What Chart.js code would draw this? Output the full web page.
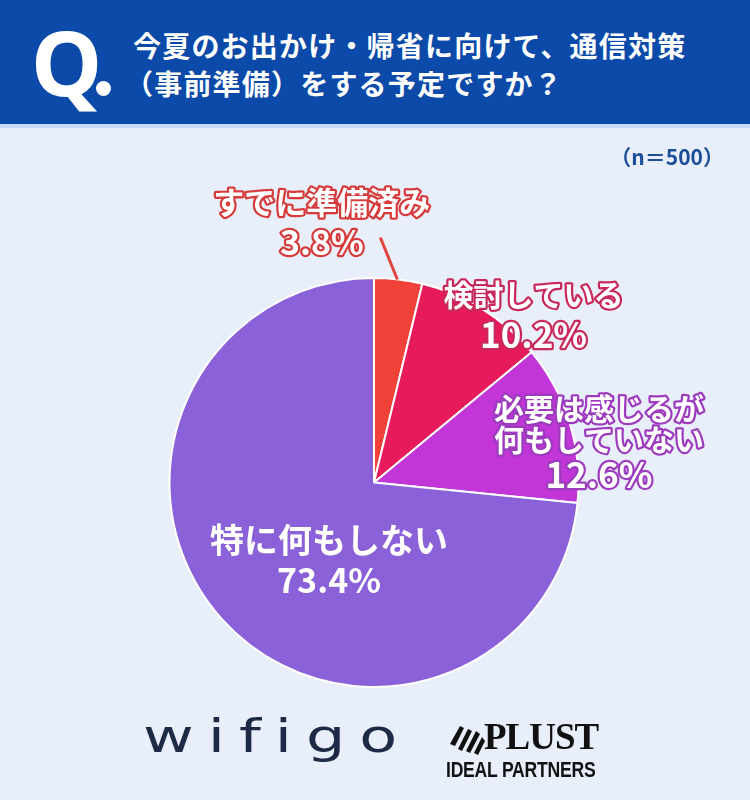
<!DOCTYPE html>
<html lang="ja">
<head>
<meta charset="utf-8">
<script src="https://cdn.jsdelivr.net/npm/chart.js@4"></script>
<style>
  body { margin: 0; }
  #wrap { position: relative; width: 750px; height: 800px; background: #e8eefa; overflow: hidden; font-family: "Noto Sans CJK JP", "Noto Sans", sans-serif; }
  #head { position: absolute; left: 0; top: 0; width: 750px; height: 124px; background: #0b4aa8; border-bottom: 4px solid #c4dcf5; }
  #q { position: absolute; left: 31px; top: 8px; color: #fff; font: 700 90px "Noto Sans", sans-serif; line-height: 106px; }
  #qdot { position: absolute; left: 96px; top: 81px; width: 15px; height: 15px; border-radius: 50%; background: #fff; }
  #title { position: absolute; left: 133px; top: 26px; color: #fff; font-weight: 700; font-size: 28px; line-height: 38px; letter-spacing: 1.2px; }
  #n { position: absolute; right: 26px; top: 141px; color: #1c4f98; font-weight: 700; font-size: 21px; }
  canvas { position: absolute; left: 0; top: 0; }
  #wifigo { position: absolute; left: 143px; top: 708px; color: #1e2a45; font: 400 62px "DejaVu Sans", sans-serif; letter-spacing: 14px; transform: scaleY(0.75); transform-origin: left top; }
  #plust { position: absolute; left: 484px; top: 717px; color: #111; font: 900 37px "Liberation Serif", serif; letter-spacing: -1px; line-height: 40px; }
  #ideal { position: absolute; left: 446px; top: 757px; color: #111; font: 700 22px "Liberation Sans Narrow", "Liberation Sans", sans-serif; transform: scaleX(0.8); transform-origin: left top; letter-spacing: -0.3px; }
  #mark { position: absolute; left: 448px; top: 722px; }
</style>
</head>
<body>
<div id="wrap">
  <canvas id="c" width="750" height="800"></canvas>
  <div id="head">
    <div id="q">Q</div>
    <div id="qdot"></div>
    <div id="title">今夏のお出かけ・帰省に向けて、通信対策<br><span style="margin-left:-8px">（事前準備）をする予定ですか？</span></div>
  </div>
  <div id="n">（n＝500）</div>
  <div id="wifigo">wifigo</div>
  <svg id="mark" width="40" height="36" viewBox="0 0 40 36">
    <path d="M2 22 L12 4 L16 6 L7 24 Z M10 27 L20 7 L24 9 L14 29 Z M18 29 L28 9 L32 12 L22 31 Z M26 31 L34 15 L37 19 L30 33 Z" fill="#111"/>
  </svg>
  <div id="plust">PLUST</div>
  <div id="ideal">IDEAL PARTNERS</div>
</div>
<script>
const categories = ["すでに準備済み", "検討している", "必要は感じるが\n何もしていない", "特に何もしない"];
const values = [3.8, 10.2, 12.6, 73.4];
const colors = ["#f1423a", "#e71a5c", "#c236d7", "#8a61d8"];
const outlineColors = ["#d63a3a", "#c8285a", "#9c3bbd", null];

// label placement: offset from pie centre in units of radius
const labelPos = [
  { dx: -0.255, dy: -1.37, lines: [{ s: 0, size: 31 }, { s: 1, size: 34 }] },
  { dx: 0.78, dy: -0.92, lines: [{ s: 0, size: 30 }, { s: 1, size: 35 }] },
  { dx: 1.10, dy: -0.36, lines: [{ s: 0, size: 30 }, { s: 0, size: 30 }, { s: 1, size: 35 }] },
  { dx: -0.22, dy: 0.28, lines: [{ s: 0, size: 34 }, { s: 1, size: 34 }] }
];

const labelPlugin = {
  id: "sliceLabels",
  afterDraw(chart) {
    const ctx = chart.ctx;
    const arc = chart.getDatasetMeta(0).data[0];
    const cx = arc.x, cy = arc.y, r = arc.outerRadius;
    // leader line for the smallest slice
    const mid = (arc.startAngle + arc.endAngle) / 2;
    ctx.save();
    ctx.strokeStyle = "#e0443c";
    ctx.lineWidth = 3;
    ctx.beginPath();
    ctx.moveTo(cx + Math.cos(mid) * r - 1, cy + Math.sin(mid) * r);
    ctx.lineTo(cx + Math.cos(mid) * r - 18, cy + Math.sin(mid) * r - 42);
    ctx.stroke();

    ctx.textAlign = "center";
    ctx.textBaseline = "middle";
    ctx.lineJoin = "round";
    values.forEach((v, i) => {
      const p = labelPos[i];
      const texts = categories[i].split("\n").concat([v.toFixed(1) + "%"]);
      let x = cx + p.dx * r, y = cy + p.dy * r;
      const gaps = i === 2 ? [0, 31, 35] : [0, 40];
      texts.forEach((t, k) => {
        y += gaps[k] || 0;
        ctx.font = "700 " + p.lines[k].size + "px 'Noto Sans CJK JP', 'Noto Sans', sans-serif";
        if (outlineColors[i]) {
          ctx.strokeStyle = outlineColors[i];
          ctx.lineWidth = 4.5;
          ctx.strokeText(t, x, y);
        }
        ctx.fillStyle = "#ffffff";
        ctx.fillText(t, x, y);
      });
    });
    ctx.restore();
  }
};

new Chart(document.getElementById("c"), {
  type: "pie",
  data: {
    labels: categories,
    datasets: [{ data: values, backgroundColor: colors, borderColor: "#ffffff", borderWidth: 2 }]
  },
  options: {
    responsive: false,
    animation: false,
    layout: { padding: { left: 168, right: 170, top: 277, bottom: 112 } },
    plugins: { legend: { display: false }, tooltip: { enabled: false } }
  },
  plugins: [labelPlugin]
});
</script>
</body>
</html>
